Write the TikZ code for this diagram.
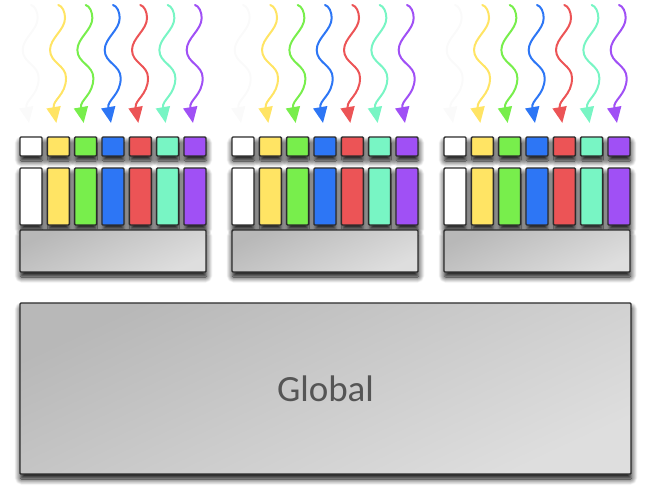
\documentclass[tikz,border=0pt]{standalone}
\usepackage{fontspec}
\newfontfamily\labelfont{Carlito}
\usetikzlibrary{arrows.meta,shadows.blur}
\definecolor{cwhite}{RGB}{255,255,255}
\definecolor{cyel}{RGB}{255,228,100}
\definecolor{cgrn}{RGB}{120,238,76}
\definecolor{cblu}{RGB}{45,118,245}
\definecolor{cred}{RGB}{236,84,86}
\definecolor{cteal}{RGB}{120,245,196}
\definecolor{cpur}{RGB}{160,80,245}
\definecolor{boxline}{RGB}{45,45,45}
\definecolor{gdark}{RGB}{184,184,184}
\definecolor{glight}{RGB}{222,222,222}
\definecolor{labelgray}{RGB}{85,85,85}
\definecolor{faint}{RGB}{250,250,250}
\begin{document}
\begin{tikzpicture}[x=1pt,y=-1pt,
  box/.style={draw=boxline, line width=1.4pt, rounded corners=1pt, inner sep=0pt, outer sep=0pt,
    anchor=north west,
    blur shadow={shadow xshift=0.5pt, shadow yshift=-5pt, shadow blur radius=6pt, shadow opacity=100, shadow blur steps=10}},
  smallbox/.style={box, minimum width=22pt, minimum height=19pt},
  tallbox/.style={box, minimum width=22pt, minimum height=57pt},
  graybox/.style={box, top color=gdark, bottom color=glight, shading angle=25},
  wave/.style={line width=2pt, line cap=round, -{Triangle[length=16pt,width=14pt]}}]
\useasboundingbox (0,0) rectangle (645,499);
\foreach \g/\gx in {1/20,2/232,3/444} {
  \foreach \i/\c in {0/cwhite,1/cyel,2/cgrn,3/cblu,4/cred,5/cteal,6/cpur} {
    \node[smallbox, fill=\c] (s\g\i) at ({\gx+\i*27.33},137) {};
    \node[tallbox, fill=\c] (t\g\i) at ({\gx+\i*27.33},168) {};
  }
  \node[graybox, minimum width=186pt, minimum height=42pt] (m\g) at (\gx,230) {};
  \foreach \i/\c in {0/faint,1/cyel,2/cgrn,3/cblu,4/cred,5/cteal,6/cpur} {
    \begin{scope}[shift={(s\g\i.north)}]
      \coordinate (top\g\i) at (0,-132);
      \coordinate (tip\g\i) at (-2,-14);
      \draw[wave, draw=\c] (top\g\i)
        .. controls (4,-131) and (6.7,-125) .. (6.7,-119)
        .. controls (6.7,-107) and (-8.3,-99) .. (-8.3,-87)
        .. controls (-8.3,-74) and (7.7,-72) .. (7.7,-59)
        .. controls (7.7,-42) and (-6,-37) .. (tip\g\i);
    \end{scope}
  }
}
\node[graybox, minimum width=611pt, minimum height=171pt,
  font=\labelfont\fontsize{37}{44}\selectfont, text=labelgray] (global) at (20,303) {Global};
\end{tikzpicture}
\end{document}
